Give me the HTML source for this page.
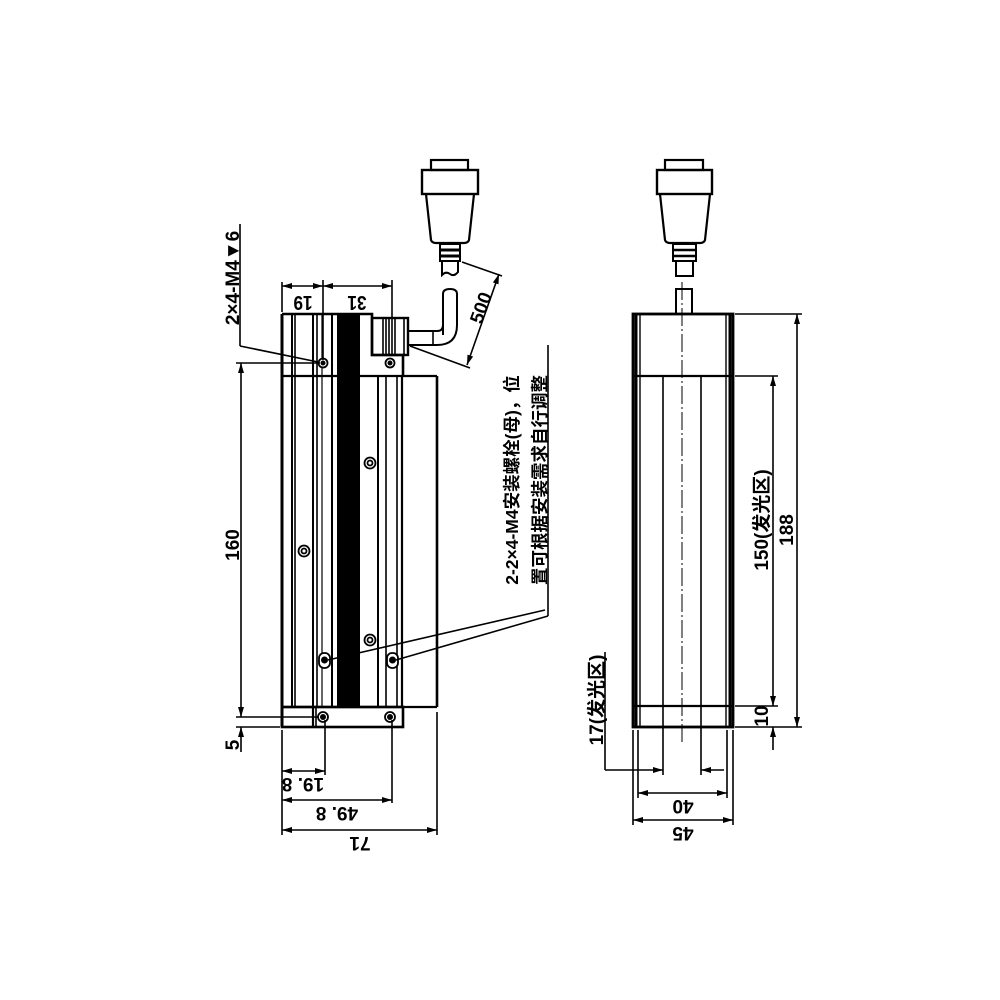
<!DOCTYPE html>
<html><head><meta charset="utf-8"><style>
html,body{margin:0;padding:0;background:#fff;}
svg{display:block}
text{font-family:"Liberation Sans","Noto Sans CJK SC",sans-serif;font-weight:bold;fill:#000}
</style></head><body>
<svg width="1000" height="1000" viewBox="0 0 1000 1000" xmlns="http://www.w3.org/2000/svg">
<defs>
<marker id="a" viewBox="0 0 10 6" refX="10" refY="3" markerWidth="10" markerHeight="6" orient="auto-start-reverse" markerUnits="userSpaceOnUse"><path d="M0,0 L10,3 L0,6 z" fill="#000"/></marker>
</defs>
<g fill="none" stroke="#000" stroke-width="1.6">
<!-- ===== LEFT VIEW ===== -->
<rect x="431" y="160" width="37" height="10" stroke-width="2.2"/>
<rect x="422" y="170" width="56" height="24" stroke-width="2.4"/>
<path d="M426,194 L431,240 Q432,243 436,243 L464,243 Q468,243 469,240 L474,194" stroke-width="2.2"/>
<rect x="440" y="244" width="20" height="17" stroke-width="2"/>
<line x1="440" y1="250" x2="460" y2="250" stroke-width="3"/>
<line x1="440" y1="256" x2="460" y2="256" stroke-width="3"/>
<path d="M442,261 L442,275 Q446,271 450,274 Q454,277 458,272 L458,261" stroke-width="2"/>
<path d="M443,335 L443,294 Q443,289 450,289 Q457,289 457,294 L457,325 Q457,345 437,345 L407,345" stroke-width="2"/>
<path d="M443,325 Q443,331 437,331 L407,331" stroke-width="2"/>
<line x1="433" y1="331" x2="433" y2="345"/>
<line x1="462" y1="262" x2="502" y2="276"/>
<line x1="410" y1="346" x2="470" y2="368"/>
<line x1="499" y1="274" x2="467" y2="365" marker-start="url(#a)" marker-end="url(#a)"/>
<path d="M282,314 L372,314 L372,355 L403,355 L403,376" stroke-width="2.6"/>
<line x1="282" y1="314" x2="282" y2="727" stroke-width="3"/>
<rect x="372" y="318" width="36" height="37" stroke-width="2.4"/>
<line x1="383" y1="318" x2="383" y2="355"/>
<line x1="386" y1="318" x2="386" y2="355"/>
<line x1="389" y1="318" x2="389" y2="355"/>
<line x1="392" y1="318" x2="392" y2="355"/>
<line x1="395" y1="318" x2="395" y2="355"/>
<line x1="404" y1="318" x2="404" y2="355"/>
<line x1="282" y1="376" x2="337" y2="376" stroke-width="2.2"/>
<line x1="360" y1="376" x2="437" y2="376" stroke-width="2.2"/>
<line x1="437" y1="376" x2="437" y2="707" stroke-width="2.6"/>
<line x1="282" y1="707" x2="437" y2="707" stroke-width="2.2"/>
<rect x="337" y="314" width="23" height="393" fill="#000" stroke="none"/>
<line x1="292" y1="314" x2="292" y2="707" stroke-width="2"/>
<line x1="295" y1="314" x2="295" y2="707"/>
<line x1="313" y1="314" x2="313" y2="707" stroke-width="2"/>
<line x1="317" y1="314" x2="317" y2="707"/>
<line x1="322" y1="314" x2="322" y2="707" stroke-width="1.2"/>
<line x1="332" y1="314" x2="332" y2="707" stroke-width="2"/>
<line x1="378" y1="376" x2="378" y2="707" stroke-width="2"/>
<line x1="386" y1="376" x2="386" y2="707"/>
<line x1="397" y1="376" x2="397" y2="707"/>
<line x1="402" y1="376" x2="402" y2="707" stroke-width="2.2"/>
<rect x="282" y="707" width="121" height="20" stroke-width="2.6"/>
<line x1="313" y1="707" x2="313" y2="727" stroke-width="2.2"/>
<line x1="316" y1="707" x2="316" y2="727"/>
<g fill="#fff" stroke-width="1.8">
<circle cx="323" cy="363" r="4.5"/><circle cx="390" cy="363" r="4.5"/>
<circle cx="323" cy="717" r="5"/><circle cx="390" cy="717" r="5"/>
<circle cx="370" cy="463" r="5.5"/><circle cx="370" cy="463" r="2.5"/>
<circle cx="304" cy="551" r="5.5"/><circle cx="304" cy="551" r="2.5"/>
<circle cx="370" cy="640" r="5.5"/><circle cx="370" cy="640" r="2.5"/>
<rect x="319" y="653" width="11" height="15" rx="5"/>
<rect x="387" y="653" width="11" height="15" rx="5"/>
</g>
<g fill="#000" stroke="none">
<circle cx="323" cy="363" r="2.5"/><circle cx="390" cy="363" r="2.5"/>
<circle cx="323" cy="717" r="3"/><circle cx="390" cy="717" r="3"/>
<circle cx="324.5" cy="660" r="3.5"/><circle cx="392.5" cy="660" r="3.5"/>
</g>
<line x1="282" y1="282" x2="282" y2="312"/>
<line x1="323" y1="280" x2="323" y2="360"/>
<line x1="392" y1="280" x2="392" y2="318"/>
<line x1="282" y1="286" x2="323" y2="286" marker-start="url(#a)" marker-end="url(#a)"/>
<line x1="323" y1="286" x2="392" y2="286" marker-start="url(#a)" marker-end="url(#a)"/>
<line x1="240" y1="224" x2="240" y2="346"/>
<line x1="240" y1="346" x2="318" y2="362"/>
<line x1="236" y1="363" x2="320" y2="363"/>
<line x1="236" y1="717" x2="318" y2="717"/>
<line x1="236" y1="727" x2="280" y2="727"/>
<line x1="241" y1="363" x2="241" y2="717" marker-start="url(#a)" marker-end="url(#a)"/>
<line x1="241" y1="727" x2="241" y2="752" marker-start="url(#a)"/>
<line x1="282" y1="730" x2="282" y2="835"/>
<line x1="325" y1="720" x2="325" y2="775"/>
<line x1="392" y1="720" x2="392" y2="803"/>
<line x1="437" y1="712" x2="437" y2="835"/>
<line x1="282" y1="771" x2="325" y2="771" marker-start="url(#a)" marker-end="url(#a)"/>
<line x1="282" y1="800" x2="392" y2="800" marker-start="url(#a)" marker-end="url(#a)"/>
<line x1="282" y1="830" x2="437" y2="830" marker-start="url(#a)" marker-end="url(#a)"/>
<line x1="548" y1="345" x2="548" y2="616"/>
<line x1="548" y1="616" x2="396" y2="660"/>
<line x1="545" y1="610" x2="328" y2="660"/>

<!-- ===== RIGHT VIEW ===== -->
<rect x="665" y="160" width="38" height="10" stroke-width="2.2"/>
<rect x="657" y="170" width="55" height="24" stroke-width="2.4"/>
<path d="M660,194 L665,240 Q666,243 670,243 L700,243 Q704,243 705,240 L710,194" stroke-width="2.2"/>
<rect x="673" y="244" width="23" height="17" stroke-width="2"/>
<line x1="673" y1="250" x2="696" y2="250" stroke-width="2.5"/>
<line x1="673" y1="256" x2="696" y2="256" stroke-width="2.5"/>
<rect x="676" y="261" width="17" height="15" stroke-width="2"/>
<rect x="676" y="289" width="16" height="25" stroke-width="2"/>
<rect x="633" y="314" width="100" height="413" stroke-width="2.8"/>
<line x1="636" y1="314" x2="636" y2="727" stroke-width="3"/>
<line x1="640" y1="314" x2="640" y2="727" stroke-width="1.4"/>
<line x1="730" y1="314" x2="730" y2="727" stroke-width="3"/>
<line x1="726" y1="314" x2="726" y2="727" stroke-width="1.4"/>
<line x1="633" y1="376" x2="733" y2="376" stroke-width="2.2"/>
<line x1="633" y1="706" x2="733" y2="706" stroke-width="2.2"/>
<line x1="663" y1="376" x2="663" y2="775"/>
<line x1="701" y1="376" x2="701" y2="775"/>
<line x1="682" y1="282" x2="682" y2="745" stroke-width="1" stroke-dasharray="18,3,2,3"/>
<line x1="735" y1="314" x2="802" y2="314"/>
<line x1="735" y1="727" x2="802" y2="727"/>
<line x1="735" y1="376" x2="778" y2="376"/>
<line x1="735" y1="706" x2="778" y2="706"/>
<line x1="797" y1="314" x2="797" y2="727" marker-start="url(#a)" marker-end="url(#a)"/>
<line x1="773" y1="376" x2="773" y2="706" marker-start="url(#a)" marker-end="url(#a)"/>
<line x1="773" y1="727" x2="773" y2="750" marker-start="url(#a)"/>
<line x1="605" y1="652" x2="605" y2="770"/>
<line x1="605" y1="770" x2="663" y2="770" marker-end="url(#a)"/>
<line x1="724" y1="770" x2="701" y2="770" marker-end="url(#a)"/>
<line x1="633" y1="730" x2="633" y2="825"/>
<line x1="638" y1="730" x2="638" y2="798"/>
<line x1="727" y1="730" x2="727" y2="798"/>
<line x1="733" y1="730" x2="733" y2="825"/>
<line x1="638" y1="793" x2="727" y2="793" marker-start="url(#a)" marker-end="url(#a)"/>
<line x1="633" y1="820" x2="733" y2="820" marker-start="url(#a)" marker-end="url(#a)"/>
</g>

<g font-size="19">
<text transform="translate(303,296) rotate(180) scale(0.9,1.05)" text-anchor="middle">19</text>
<text transform="translate(357,296) rotate(180) scale(0.9,1.05)" text-anchor="middle">31</text>
<text transform="translate(239,278) rotate(-90)" text-anchor="middle" font-size="19">2×4-M4▼6</text>
<text transform="translate(239,545) rotate(-90)" text-anchor="middle">160</text>
<text transform="translate(239,745) rotate(-90)" text-anchor="middle">5</text>
<text transform="translate(303,778) rotate(180)" text-anchor="middle">19. 8</text>
<text transform="translate(337,807) rotate(180)" text-anchor="middle">49. 8</text>
<text transform="translate(360,837) rotate(180)" text-anchor="middle">71</text>
<text transform="translate(487,310) rotate(-70)" text-anchor="middle">500</text>
<text transform="translate(518,480) rotate(-90)" text-anchor="middle" font-size="17.5">2-2×4-M4安装螺栓(母)，位</text>
<text transform="translate(546,480) rotate(-90)" text-anchor="middle" font-size="17.5">置可根据安装需求自行调整</text>
<text transform="translate(768,520) rotate(-90)" text-anchor="middle">150(发光区)</text>
<text transform="translate(793,530) rotate(-90)" text-anchor="middle">188</text>
<text transform="translate(768,716) rotate(-90)" text-anchor="middle">10</text>
<text transform="translate(603,700) rotate(-90)" text-anchor="middle">17(发光区)</text>
<text transform="translate(683,800) rotate(180)" text-anchor="middle">40</text>
<text transform="translate(683,827) rotate(180)" text-anchor="middle">45</text>
</g>
</svg>
</body></html>
